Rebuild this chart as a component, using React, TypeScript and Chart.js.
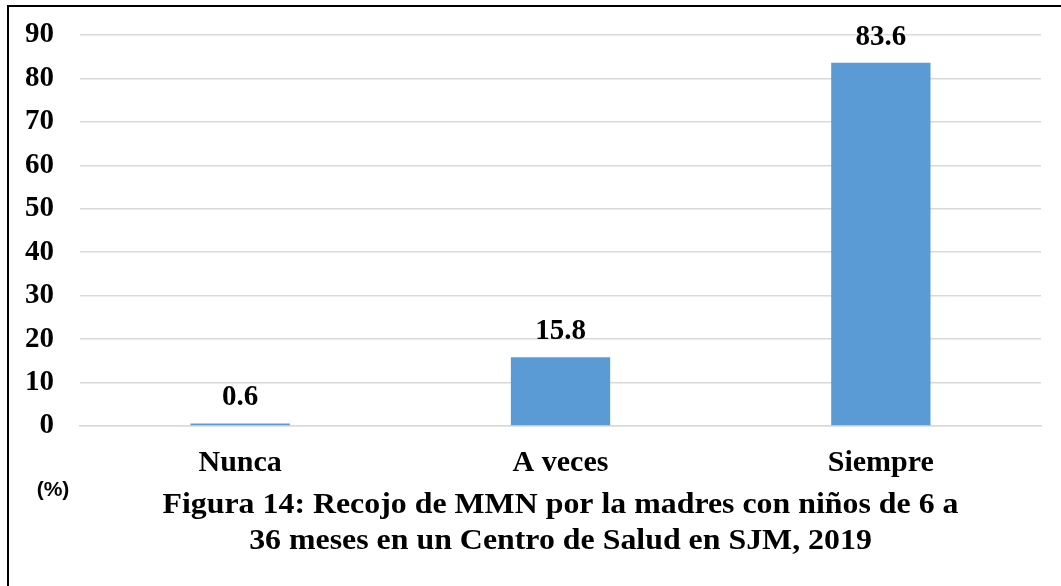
import React, { useEffect, useRef } from "react";
import { Chart, registerables } from "chart.js";

Chart.register(...registerables);

const categories = ["Nunca", "A veces", "Siempre"];
const values = [0.6, 15.8, 83.6];
const yTicks = [0, 10, 20, 30, 40, 50, 60, 70, 80, 90];
const titleLines = [
  "Figura 14: Recojo de MMN por la madres con niños de 6 a",
  "36 meses en un Centro de Salud en SJM, 2019",
];
const unitLabel = "(%)";

const SERIF = '"Liberation Serif", "Times New Roman", serif';
const SANS = '"Liberation Sans", Arial, sans-serif';

const decorPlugin = {
  id: "decor",
  beforeDraw(chart: any) {
    const ctx = chart.ctx;
    ctx.save();
    ctx.fillStyle = "#ffffff";
    ctx.fillRect(0, 0, chart.width, chart.height);
    ctx.restore();
  },
  afterDatasetsDraw(chart: any) {
    const ctx = chart.ctx;
    const meta = chart.getDatasetMeta(0);
    ctx.save();
    ctx.fillStyle = "#000000";
    ctx.font = `bold 29px ${SERIF}`;
    ctx.textAlign = "center";
    ctx.textBaseline = "alphabetic";
    meta.data.forEach((bar: any, i: number) => {
      ctx.fillText(String(values[i]), bar.x, bar.y - 18);
    });
    ctx.restore();
  },
  afterDraw(chart: any) {
    const ctx = chart.ctx;
    const area = chart.chartArea;
    const cx = (area.left + area.right) / 2;
    ctx.save();
    ctx.fillStyle = "#000000";
    ctx.textBaseline = "alphabetic";
    ctx.font = `bold 29px ${SERIF}`;
    const w1 = ctx.measureText(titleLines[0]).width;
    const sx = 796 / w1;
    ctx.textAlign = "center";
    [513, 549].forEach((yb, i) => {
      ctx.save();
      ctx.translate(cx, yb);
      ctx.scale(sx, 1.04);
      ctx.fillText(titleLines[i], 0, 0);
      ctx.restore();
    });
    ctx.font = `bold 21px ${SANS}`;
    ctx.fillText(unitLabel, 53, 496);
    // border (left and top)
    ctx.strokeStyle = "#000000";
    ctx.lineWidth = 2;
    ctx.beginPath();
    ctx.moveTo(8, 586);
    ctx.lineTo(8, 6);
    ctx.lineTo(1061, 6);
    ctx.stroke();
    ctx.restore();
  },
};

export default function App() {
  const canvasRef = useRef<HTMLCanvasElement | null>(null);

  useEffect(() => {
    if (!canvasRef.current) return;
    const chart = new Chart(canvasRef.current, {
      type: "bar",
      data: {
        labels: categories,
        datasets: [
          {
            data: values,
            backgroundColor: "#5B9BD5",
            borderWidth: 0,
            categoryPercentage: 1,
            barPercentage: 0.31,
          },
        ],
      },
      options: {
        responsive: false,
        maintainAspectRatio: false,
        animation: false,
        layout: { padding: { left: 0, top: 35, right: 20, bottom: 0 } },
        plugins: {
          legend: { display: false },
          title: { display: false },
          tooltip: { enabled: false },
        },
        scales: {
          x: {
            grid: { display: false, drawTicks: false },
            border: { display: true, color: "#D9D9D9", width: 1.5 },
            ticks: {
              color: "#000000",
              font: { family: SERIF, size: 30, weight: "bold" },
              padding: 19,
            },
            afterFit(scale: any) {
              scale.height = 586 - 426;
            },
          },
          y: {
            min: 0,
            max: 90,
            afterBuildTicks(scale: any) {
              scale.ticks = yTicks.map((v) => ({ value: v }));
            },
            grid: {
              color: "#D9D9D9",
              lineWidth: 1.5,
              drawTicks: true,
              tickLength: 26,
              tickColor: "rgba(0,0,0,0)",
            },
            border: { display: false },
            ticks: {
              color: "#000000",
              font: { family: SERIF, size: 29, weight: "bold" },
              padding: 0,
            },
            afterFit(scale: any) {
              scale.width = 80;
            },
          },
        },
      },
      plugins: [decorPlugin],
    });
    return () => chart.destroy();
  }, []);

  return (
    <div style={{ position: "fixed", left: 0, top: 0, width: 1061, height: 586, background: "#fff" }}>
      <canvas ref={canvasRef} width={1061} height={586} style={{ display: "block", width: 1061, height: 586 }} />
    </div>
  );
}
